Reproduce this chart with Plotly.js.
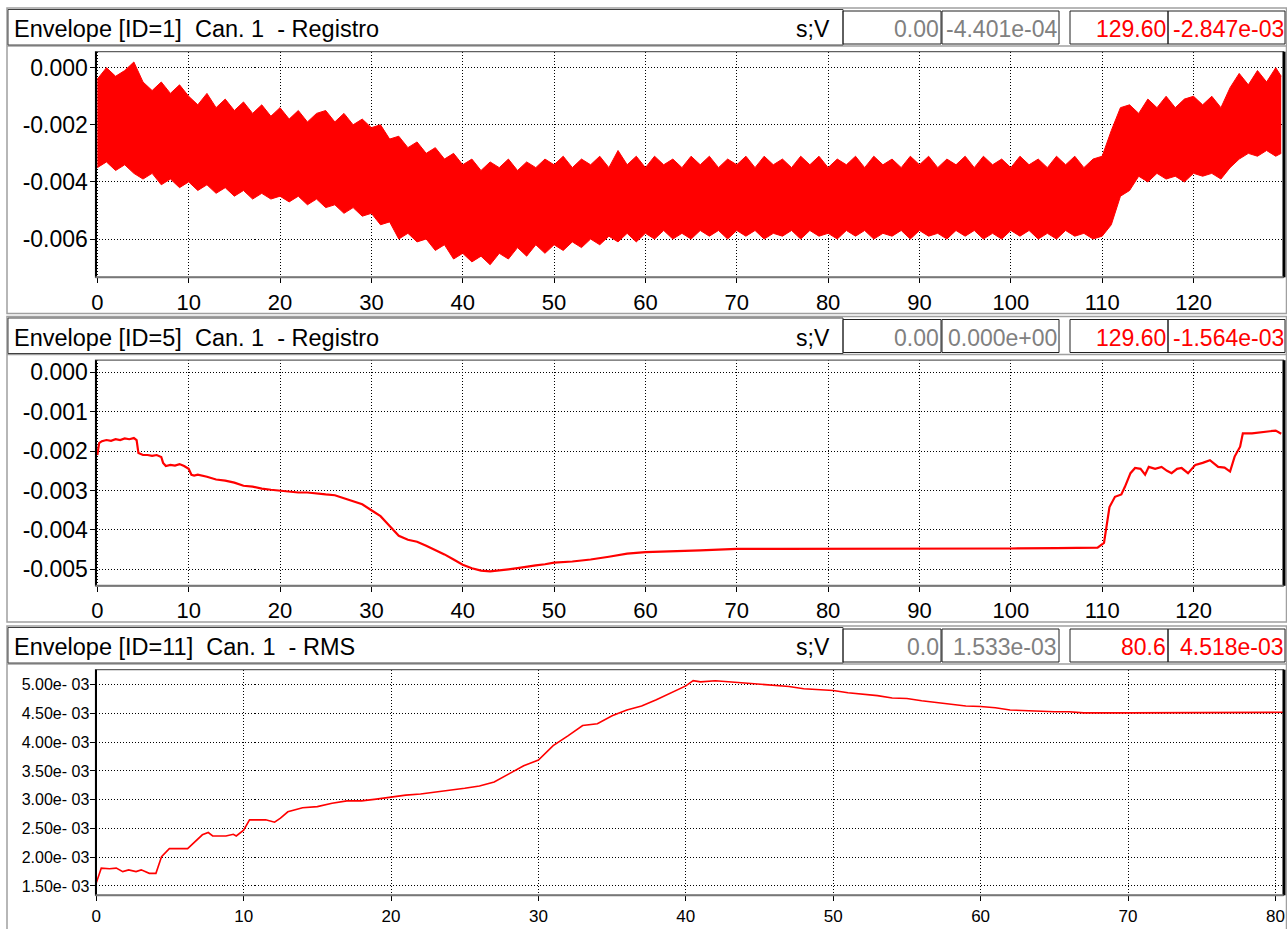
<!DOCTYPE html>
<html>
<head>
<meta charset="utf-8">
<script src="https://cdn.plot.ly/plotly-3.0.1.min.js"></script>
<style>html,body{margin:0;padding:0;background:#fff;}#chart{width:1287px;height:929px;}</style>
</head>
<body>
<div id="chart"></div>
<script>
// ---------------- DATA ----------------
// Panel 1: Envelope [ID=1] - dense oscillation, read as upper / lower envelope (V)
const t1 = [0,1,2,3,4,5,6,7,8,9,10,11,12,13,14,15,16,17,18,19,20,21,22,23,24,25,26,27,28,29,30,31,32,33,34,35,36,37,38,39,40,41,42,43,44,45,46,47,48,49,50,51,52,53,54,55,56,57,58,59,60,61,62,63,64,65,66,67,68,69,70,71,72,73,74,75,76,77,78,79,80,81,82,83,84,85,86,87,88,89,90,91,92,93,94,95,96,97,98,99,100,101,102,103,104,105,106,107,108,109,110,111,112,113,114,115,116,117,118,119,120,121,122,123,124,125,126,127,128,129,129.6];
const upper1 = [
  -0.0004,0.0000,-0.0003,-0.0001,0.0002,
  -0.0005,-0.0008,-0.0005,-0.0009,-0.0006,-0.0010,
  -0.0013,-0.0009,-0.0014,-0.0011,-0.0015,-0.0012,-0.0016,-0.0013,-0.0017,-0.0014,
  -0.0018,-0.0015,-0.0019,-0.0016,-0.0015,-0.0019,-0.0016,-0.0020,-0.0018,-0.0021,
  -0.0020,-0.0025,-0.0024,-0.0028,-0.0026,-0.0030,-0.0028,-0.0032,-0.0030,-0.0034,
  -0.0032,-0.0036,-0.0033,-0.0035,-0.0032,-0.0036,-0.0033,-0.0035,-0.0032,-0.0034,
  -0.0031,-0.0035,-0.0032,-0.0034,-0.0031,-0.0035,-0.0029,-0.0034,-0.0031,-0.0035,
  -0.0031,-0.0034,-0.0032,-0.0035,-0.0031,-0.0034,-0.0031,-0.0035,-0.0032,-0.0034,
  -0.0031,-0.0035,-0.0031,-0.0034,-0.0032,-0.0035,-0.0031,-0.0034,-0.0031,-0.0035,
  -0.0032,-0.0034,-0.0031,-0.0035,-0.0031,-0.0034,-0.0032,-0.0035,-0.0031,-0.0034,
  -0.0031,-0.0035,-0.0032,-0.0034,-0.0031,-0.0035,-0.0031,-0.0034,-0.0032,-0.0035,
  -0.0031,-0.0034,-0.0032,-0.0035,-0.0031,-0.0034,-0.0031,-0.0035,-0.0032,-0.0031,
  -0.0022,-0.0014,-0.0013,-0.0016,-0.0011,-0.0014,-0.0010,-0.0014,-0.0011,-0.0010,
  -0.0013,-0.0010,-0.0014,-0.0007,-0.0002,-0.0006,-0.0001,-0.0005,0.0000,
  -0.0003];
const lower1 = [
  -0.0035,-0.0033,-0.0036,-0.0034,-0.0037,
  -0.0039,-0.0037,-0.0041,-0.0039,-0.0042,-0.0040,
  -0.0043,-0.0041,-0.0044,-0.0042,-0.0045,-0.0043,-0.0046,-0.0044,-0.0046,-0.0045,
  -0.0047,-0.0045,-0.0048,-0.0046,-0.0049,-0.0048,-0.0051,-0.0049,-0.0052,-0.0051,
  -0.0055,-0.0054,-0.0060,-0.0058,-0.0061,-0.0060,-0.0064,-0.0062,-0.0067,-0.0065,
  -0.0068,-0.0066,-0.0069,-0.0065,-0.0067,-0.0063,-0.0066,-0.0062,-0.0065,-0.0062,
  -0.0064,-0.0061,-0.0063,-0.0060,-0.0062,-0.0059,-0.0061,-0.0058,-0.0061,-0.0058,
  -0.0060,-0.0057,-0.0060,-0.0058,-0.0060,-0.0057,-0.0059,-0.0057,-0.0060,-0.0057,
  -0.0059,-0.0057,-0.0060,-0.0058,-0.0059,-0.0057,-0.0060,-0.0057,-0.0059,-0.0058,
  -0.0060,-0.0057,-0.0059,-0.0057,-0.0060,-0.0058,-0.0059,-0.0057,-0.0060,-0.0057,
  -0.0059,-0.0058,-0.0060,-0.0057,-0.0059,-0.0057,-0.0060,-0.0058,-0.0060,-0.0057,
  -0.0059,-0.0057,-0.0060,-0.0058,-0.0060,-0.0057,-0.0059,-0.0058,-0.0060,-0.0059,
  -0.0055,-0.0045,-0.0043,-0.0038,-0.0040,-0.0037,-0.0039,-0.0038,-0.0040,-0.0037,
  -0.0038,-0.0037,-0.0039,-0.0035,-0.0032,-0.0030,-0.0031,-0.0029,-0.0031,
  -0.0030];

// Panel 2: Envelope [ID=5] (V)
const t2 = [0,0.2,0.5,1,1.5,2,2.5,3,3.5,4,4.3,4.5,5,5.5,6,6.5,7,7.2,7.5,8,8.5,9,9.5,10,10.3,10.6,11,12,13,14,15,16,17,18,19,20,21,22,23,24,25,26,27,28,29,30,31,32,33,34,35,36,37,38,39,40,41,42,43,44,45,46,47,48,49,50,52,54,56,58,60,62,64,66,68,70,75,80,85,90,95,100,105,108,109.5,110.2,110.8,111.4,112.1,112.5,113.1,113.6,114.2,114.7,115.1,115.8,116.5,117.1,117.6,118.2,118.7,119.4,120.2,121,121.8,122.7,123.4,124,124.5,125.1,125.4,126.4,127.3,128.2,129,129.6];
const v2 = [-0.00210,-0.00180,-0.00175,-0.00172,-0.00174,-0.00170,-0.00172,-0.00168,-0.00170,-0.00167,-0.00172,-0.00205,-0.00210,-0.00210,-0.00212,-0.00210,-0.00215,-0.00230,-0.00238,-0.00235,-0.00237,-0.00233,-0.00238,-0.00245,-0.00260,-0.00262,-0.00260,-0.00265,-0.00272,-0.00275,-0.00280,-0.00288,-0.00290,-0.00295,-0.00298,-0.00300,-0.00303,-0.00305,-0.00305,-0.00308,-0.00310,-0.00312,-0.00320,-0.00328,-0.00335,-0.00350,-0.00365,-0.00390,-0.00415,-0.00425,-0.00430,-0.00440,-0.00450,-0.00462,-0.00475,-0.00488,-0.00497,-0.00503,-0.00505,-0.00503,-0.00500,-0.00497,-0.00493,-0.00490,-0.00487,-0.00483,-0.00480,-0.00475,-0.00468,-0.00460,-0.00456,-0.00455,-0.00453,-0.00452,-0.00450,-0.00448,-0.00448,-0.00448,-0.00447,-0.00448,-0.00448,-0.00447,-0.00446,-0.00445,-0.00445,-0.00433,-0.00342,-0.00316,-0.00310,-0.00290,-0.00256,-0.00243,-0.00245,-0.00260,-0.00240,-0.00245,-0.00240,-0.00250,-0.00256,-0.00245,-0.00243,-0.00256,-0.00235,-0.00230,-0.00223,-0.00240,-0.00242,-0.00252,-0.00214,-0.00189,-0.00155,-0.00155,-0.00152,-0.00150,-0.00148,-0.00156];

// Panel 3: Envelope [ID=11] RMS (V)
const t3 = [0,0.34,0.9,1.36,1.8,2.2,2.7,3.05,3.6,4.05,4.43,4.96,6.2,7.2,7.6,7.9,8.8,9.3,9.5,10,10.4,11.5,12.1,12.5,13,14,15,16,17,18,19,20,21,22,23,24,25,26,27,28,29,30,31,32,33,34,35,36,37,38,39,40,40.5,41,42,43,44,45,46,47,48,49,50,51,52,53,54,55,56,57,58,59,60,61,62,63,64,65,66,67,70,75,80.6];
const v3 = [0.00155,0.00181,0.00180,0.00181,0.00175,0.00178,0.00175,0.00178,0.00172,0.00172,0.00201,0.00215,0.00215,0.00239,0.00243,0.00237,0.00237,0.00240,0.00237,0.00247,0.00265,0.00265,0.00261,0.00268,0.00279,0.00286,0.00288,0.00294,0.00298,0.00298,0.00301,0.00305,0.00308,0.00310,0.00313,0.00317,0.00320,0.00324,0.00331,0.00345,0.00359,0.00369,0.00394,0.00411,0.00429,0.00432,0.00446,0.00456,0.00463,0.00474,0.00486,0.00498,0.00507,0.00505,0.00507,0.00505,0.00502,0.00500,0.00498,0.00497,0.00493,0.00491,0.00490,0.00486,0.00484,0.00481,0.00477,0.00476,0.00472,0.00469,0.00467,0.00463,0.00462,0.00460,0.00456,0.00455,0.00453,0.00453,0.00453,0.00451,0.00451,0.00451,0.00452];

// Tick values / labels
const xTicks12 = [0,10,20,30,40,50,60,70,80,90,100,110,120];
const xTicks3 = [0,10,20,30,40,50,60,70,80];
const yTicks1 = [0,-0.002,-0.004,-0.006];
const yLabels1 = ['0.000','-0.002','-0.004','-0.006'];
const yTicks2 = [0,-0.001,-0.002,-0.003,-0.004,-0.005];
const yLabels2 = ['0.000','-0.001','-0.002','-0.003','-0.004','-0.005'];
const yTicks3 = [0.005,0.0045,0.004,0.0035,0.003,0.0025,0.002,0.0015];
const yLabels3 = ['5.00e- 03','4.50e- 03','4.00e- 03','3.50e- 03','3.00e- 03','2.50e- 03','2.00e- 03','1.50e- 03'];

// Header texts
const titles = ['Envelope [ID=1]\u00a0 Can. 1\u00a0 - Registro','Envelope [ID=5]\u00a0 Can. 1\u00a0 - Registro','Envelope [ID=11]\u00a0 Can. 1\u00a0 - RMS'];
const units = ['s;V','s;V','s;V'];
const cursorA = [['0.00','-4.401e-04'],['0.00','0.000e+00'],['0.0','1.533e-03']];
const cursorB = [['129.60','-2.847e-03'],['129.60','-1.564e-03'],['80.6','4.518e-03']];

// ---------------- LAYOUT ----------------
const W = 1287, H = 929;
const X = px => px / W;
const Y = py => 1 - py / H;
const FONT = 'Liberation Sans, Arial, sans-serif';
const RED = '#ff0000', GRAY = '#808080';
const offs = [0, 308.5, 618];
const plotL = 95.5, plotR = 1283.5, plotT = 51.7, plotB = 277.3;

const shapes = [];
const annotations = [];
offs.forEach((o, i) => {
  shapes.push({type:'rect', xref:'paper', yref:'paper', x0:X(7), x1:X(1286.5), y0:Y(313.5+o), y1:Y(8+o), line:{color:'#a0a0a0', width:1.5}});
  shapes.push({type:'line', xref:'paper', yref:'paper', x0:X(7), x1:X(1286.5), y0:Y(46+o), y1:Y(46+o), line:{color:'#a0a0a0', width:1.5}});
  shapes.push({type:'rect', xref:'paper', yref:'paper', x0:X(8), x1:X(843), y0:Y(45+o), y1:Y(9.5+o), line:{color:'#404040', width:1}});
  [[843,941],[942,1059],[1070,1168],[1168,1285]].forEach(b => {
    shapes.push({type:'rect', xref:'paper', yref:'paper', x0:X(b[0]), x1:X(b[1]), y0:Y(44+o), y1:Y(11+o), line:{color:'#202020', width:1}});
  });
  shapes.push({type:'rect', xref:'paper', yref:'paper', x0:X(plotL), x1:X(plotR), y0:Y(plotB+o), y1:Y(plotT+o), line:{color:'#606060', width:1.2}});
  shapes.push({type:'line', xref:'paper', yref:'paper', x0:X(96), x1:X(96), y0:Y(plotB+o), y1:Y(plotT+o), line:{color:'#000', width:2}});
  shapes.push({type:'line', xref:'paper', yref:'paper', x0:X(1284), x1:X(1284), y0:Y(plotB+o), y1:Y(plotT+o), line:{color:'#000', width:3}});
  shapes.push({type:'line', xref:'paper', yref:'paper', x0:X(plotL), x1:X(plotR), y0:Y(plotB+o), y1:Y(plotB+o), line:{color:'#777', width:2}});

  annotations.push({xref:'paper', yref:'paper', x:X(12), y:Y(29+o), xanchor:'left', yanchor:'middle', text:titles[i], showarrow:false, font:{family:FONT, size:23.5, color:'#000'}});
  annotations.push({xref:'paper', yref:'paper', x:X(832), y:Y(29+o), xanchor:'right', yanchor:'middle', text:units[i], showarrow:false, font:{family:FONT, size:23, color:'#000'}});
  annotations.push({xref:'paper', yref:'paper', x:X(941), y:Y(29+o), xanchor:'right', yanchor:'middle', text:cursorA[i][0], showarrow:false, font:{family:FONT, size:23, color:GRAY}});
  annotations.push({xref:'paper', yref:'paper', x:X(1059), y:Y(29+o), xanchor:'right', yanchor:'middle', text:cursorA[i][1], showarrow:false, font:{family:FONT, size:23, color:GRAY}});
  annotations.push({xref:'paper', yref:'paper', x:X(1168), y:Y(29+o), xanchor:'right', yanchor:'middle', text:cursorB[i][0], showarrow:false, font:{family:FONT, size:23, color:RED}});
  annotations.push({xref:'paper', yref:'paper', x:X(1286), y:Y(29+o), xanchor:'right', yanchor:'middle', text:cursorB[i][1], showarrow:false, font:{family:FONT, size:23, color:RED}});
});

function xAxis(range, ticks, fs) {
  return {domain:[X(plotL), X(plotR)], range:range, tickmode:'array', tickvals:ticks,
    ticks:'outside', ticklen:5, tickcolor:'#000', tickwidth:1, showline:false, zeroline:false,
    showgrid:true, gridcolor:'#000', gridwidth:1, griddash:'1px,2px',
    tickfont:{family:FONT, size:fs, color:'#000'}, fixedrange:true};
}
function yAxis(o, range, ticks, labels, fs) {
  return {domain:[Y(plotB+o), Y(plotT+o)], range:range, tickmode:'array', tickvals:ticks, ticktext:labels,
    ticks:'outside', ticklen:5, tickcolor:'#000', tickwidth:1, showline:false, zeroline:false,
    showgrid:true, gridcolor:'#000', gridwidth:1, griddash:'1px,2px', ticklabelstandoff:-3,
    tickfont:{family:FONT, size:fs, color:'#000'}, fixedrange:true};
}

const layout = {
  width:W, height:H, autosize:false,
  margin:{l:0, r:0, t:0, b:0, pad:0},
  paper_bgcolor:'#fff', plot_bgcolor:'#fff',
  showlegend:false,
  xaxis: Object.assign(xAxis([-0.2, 129.85], xTicks12, 22), {anchor:'y'}),
  yaxis: Object.assign(yAxis(offs[0], [-0.00734, 0.00056], yTicks1, yLabels1, 23), {anchor:'x'}),
  xaxis2: Object.assign(xAxis([-0.2, 129.85], xTicks12, 22), {anchor:'y2'}),
  yaxis2: Object.assign(yAxis(offs[1], [-0.005416, 0.000304], yTicks2, yLabels2, 23), {anchor:'x2'}),
  xaxis3: Object.assign(xAxis([-0.05, 80.55], xTicks3, 17), {anchor:'y3'}),
  yaxis3: Object.assign(yAxis(offs[2], [0.001338, 0.005261], yTicks3, yLabels3, 16), {anchor:'x3'}),
  shapes: shapes,
  annotations: annotations
};

const traces = [
  {x:t1, y:lower1, xaxis:'x', yaxis:'y', type:'scatter', mode:'lines', line:{color:RED, width:1}, hoverinfo:'skip'},
  {x:t1, y:upper1, xaxis:'x', yaxis:'y', type:'scatter', mode:'lines', fill:'tonexty', fillcolor:RED, line:{color:RED, width:1}, hoverinfo:'skip'},
  {x:t2, y:v2, xaxis:'x2', yaxis:'y2', type:'scatter', mode:'lines', line:{color:RED, width:2.2}, hoverinfo:'skip'},
  {x:t3, y:v3, xaxis:'x3', yaxis:'y3', type:'scatter', mode:'lines', line:{color:RED, width:1.6}, hoverinfo:'skip'}
];

Plotly.newPlot('chart', traces, layout, {displayModeBar:false, staticPlot:true});
</script>
</body>
</html>
